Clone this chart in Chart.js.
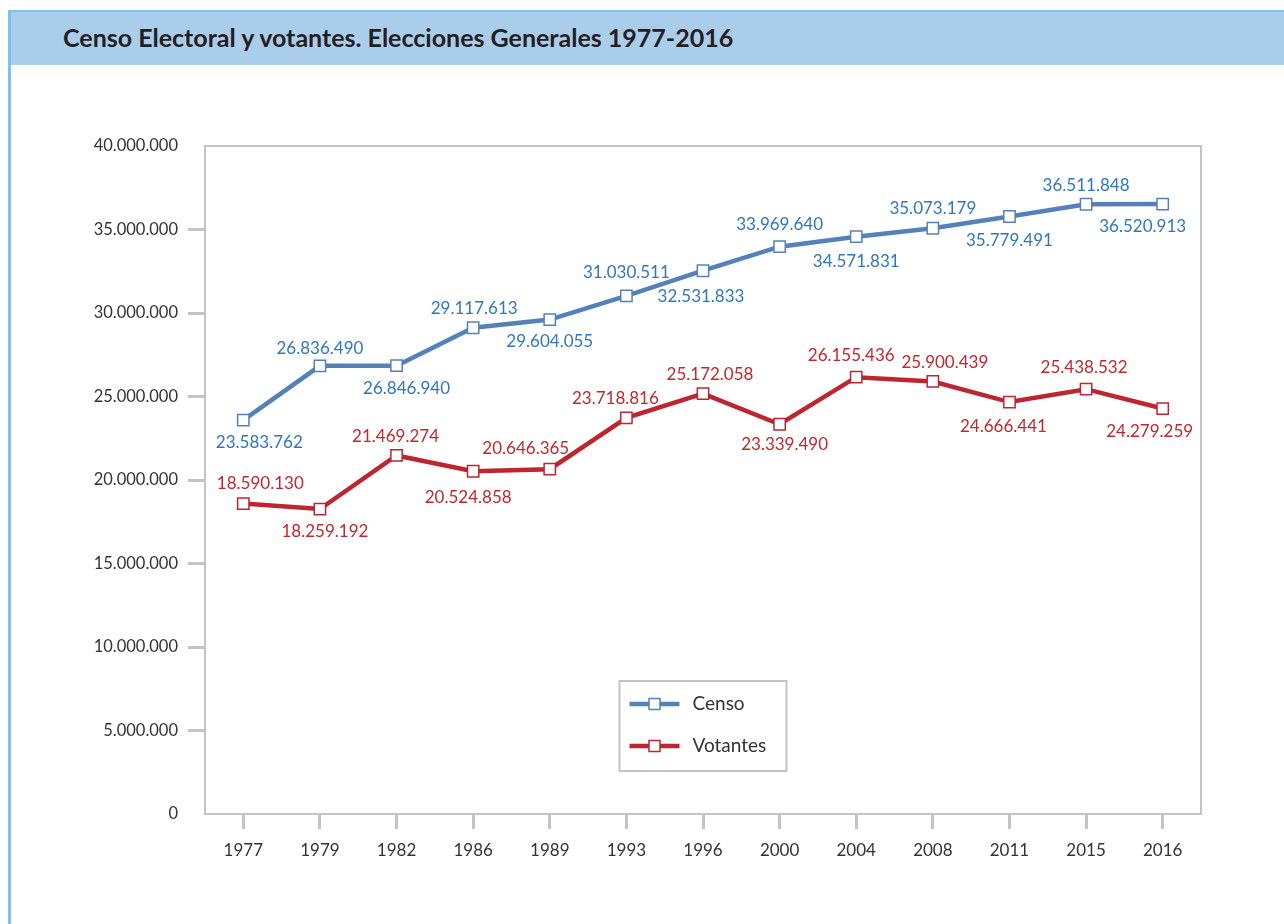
<!DOCTYPE html>
<html lang="es">
<head>
<meta charset="utf-8">
<title>Censo Electoral y votantes</title>
<script src="https://cdn.jsdelivr.net/npm/chart.js@4.4.1/dist/chart.umd.min.js"></script>
<style>
  html, body { margin: 0; padding: 0; background: #fff; }
  body { width: 1284px; height: 924px; position: relative; overflow: hidden; font-family: Lato, "Open Sans", sans-serif; }
  .frame { position: absolute; left: 8px; top: 10px; right: 0; bottom: 0; border-top: 2px solid #7cc2ec; border-left: 3px solid #7cc2ec; }
  .titlebar { height: 53px; background: #abcdec; }
  .titlebar h1 { margin: 0; padding-left: 52px; line-height: 51px; font-size: 25px; font-weight: 700; color: #231f20; }
  .chart-box { position: absolute; left: 0; top: 0; width: 1284px; height: 924px; }
</style>
</head>
<body>
<div class="frame">
  <div class="titlebar"><h1>Censo Electoral y votantes. Elecciones Generales 1977-2016</h1></div>
</div>
<div class="chart-box"><canvas id="chart" width="1284" height="924"></canvas></div>
<script>
// ==========================================
// datos
// ==========================================
const years = ['1977', '1979', '1982', '1986', '1989', '1993', '1996', '2000', '2004', '2008', '2011', '2015', '2016'];

const censo = [23583762, 26836490, 26846940, 29117613, 29604055, 31030511, 32531833,
    33969640, 34571831, 35073179, 35779491, 36511848, 36520913];

const votantes = [18590130, 18259192, 21469274, 20524858, 20646365, 23718816, 25172058,
    23339490, 26155436, 25900439, 24666441, 25438532, 24279259];

const yTicks = [0, 5000000, 10000000, 15000000, 20000000, 25000000, 30000000, 35000000, 40000000];

// desplazamiento de las etiquetas [dx, dy] respecto al punto
const censoLabelPos = [[16, 22], [0, -17], [10, 23], [1, -19], [0, 22], [0, -23], [-2, 26],
    [0, -22], [0, 25], [0, -20], [0, 24], [0, -19], [-20, 22]];
const votantesLabelPos = [[17, -20], [5, 22], [-1, -19], [-5, 26], [-24, -21], [-11, -19], [7, -19],
    [5, 20], [-5, -22], [12, -19], [-6, 24], [-2, -22], [-13, 23]];

const FONT = 'Lato, "Open Sans", sans-serif';
const AXIS_GRAY = '#c4c4c7';

function fmt(v) {
    return String(v).replace(/\B(?=(\d{3})+(?!\d))/g, '.');
}

// marco del área de dibujo
const frameBorder = {
    id: 'frameBorder',
    afterDraw(chart) {
        const { ctx, chartArea: a } = chart;
        ctx.save();
        ctx.strokeStyle = AXIS_GRAY;
        ctx.lineWidth = 2;
        ctx.strokeRect(a.left, a.top, a.right - a.left, a.bottom - a.top);
        ctx.restore();
    }
};

// etiquetas de valores
const valueLabels = {
    id: 'valueLabels',
    afterDatasetsDraw(chart) {
        const ctx = chart.ctx;
        ctx.save();
        ctx.font = '17px ' + FONT;
        ctx.textAlign = 'center';
        ctx.textBaseline = 'middle';
        chart.data.datasets.forEach((ds, i) => {
            const meta = chart.getDatasetMeta(i);
            ctx.fillStyle = ds.labelColor;
            meta.data.forEach((pt, j) => {
                const off = ds.labelPos[j];
                ctx.fillText(fmt(ds.data[j]), pt.x + off[0], pt.y + off[1]);
            });
        });
        ctx.restore();
    }
};

// leyenda dentro del gráfico
const insideLegend = {
    id: 'insideLegend',
    afterDraw(chart) {
        const { ctx, chartArea: a } = chart;
        const w = 167, h = 90;
        const x = (a.left + a.right) / 2 - w / 2;
        const y = a.bottom - 43 - h;
        ctx.save();
        ctx.fillStyle = '#fff';
        ctx.fillRect(x, y, w, h);
        ctx.strokeStyle = AXIS_GRAY;
        ctx.lineWidth = 2;
        ctx.strokeRect(x, y, w, h);
        chart.data.datasets.forEach((ds, i) => {
            const cy = y + 23 + i * 42;
            ctx.strokeStyle = ds.borderColor;
            ctx.lineWidth = 4.5;
            ctx.beginPath();
            ctx.moveTo(x + 10, cy);
            ctx.lineTo(x + 60, cy);
            ctx.stroke();
            ctx.fillStyle = '#fff';
            ctx.fillRect(x + 29.5, cy - 5.5, 11, 11);
            ctx.lineWidth = 1.5;
            ctx.strokeRect(x + 29.5, cy - 5.5, 11, 11);
            ctx.fillStyle = '#333';
            ctx.font = '19px ' + FONT;
            ctx.textAlign = 'left';
            ctx.textBaseline = 'middle';
            ctx.fillText(ds.label, x + 73, cy);
        });
        ctx.restore();
    }
};

new Chart(document.getElementById('chart'), {
    type: 'line',
    data: {
        labels: years,
        datasets: [
            {
                label: 'Censo',
                data: censo,
                borderColor: '#5581b9',
                labelColor: '#2f77bd',
                labelPos: censoLabelPos,
                borderWidth: 4.5,
                tension: 0,
                pointStyle: 'rect',
                pointRadius: 8,
                pointBorderWidth: 1.5,
                pointBackgroundColor: '#fff',
                pointBorderColor: '#5581b9'
            },
            {
                label: 'Votantes',
                data: votantes,
                borderColor: '#bd2530',
                labelColor: '#c1272d',
                labelPos: votantesLabelPos,
                borderWidth: 4.5,
                tension: 0,
                pointStyle: 'rect',
                pointRadius: 8,
                pointBorderWidth: 1.5,
                pointBackgroundColor: '#fff',
                pointBorderColor: '#bd2530'
            }
        ]
    },
    options: {
        responsive: false,
        animation: false,
        devicePixelRatio: 1,
        layout: { padding: { left: 0, right: 83, top: 146, bottom: 40 } },
        plugins: {
            legend: { display: false },
            tooltip: { enabled: false }
        },
        scales: {
            x: {
                offset: true,
                border: { display: false },
                grid: {
                    offset: false,
                    drawOnChartArea: false,
                    tickLength: 15,
                    lineWidth: 3,
                    color: AXIS_GRAY
                },
                ticks: { color: '#333', padding: 11, font: { family: FONT, size: 17 } },
                afterFit(scale) { scale.height = 70; }
            },
            y: {
                min: 0,
                max: 40000000,
                border: { display: false },
                afterBuildTicks(scale) { scale.ticks = yTicks.map(v => ({ value: v })); },
                grid: {
                    drawOnChartArea: false,
                    tickLength: 17,
                    lineWidth: 3,
                    color: ctx => (ctx.index === 0 || ctx.index === yTicks.length - 1) ? 'rgba(0,0,0,0)' : AXIS_GRAY
                },
                ticks: {
                    color: '#333',
                    padding: 10,
                    font: { family: FONT, size: 16.5 },
                    callback: v => fmt(v)
                },
                afterFit(scale) { scale.width = 205; }
            }
        }
    },
    plugins: [frameBorder, valueLabels, insideLegend]
});
</script>
</body>
</html>
